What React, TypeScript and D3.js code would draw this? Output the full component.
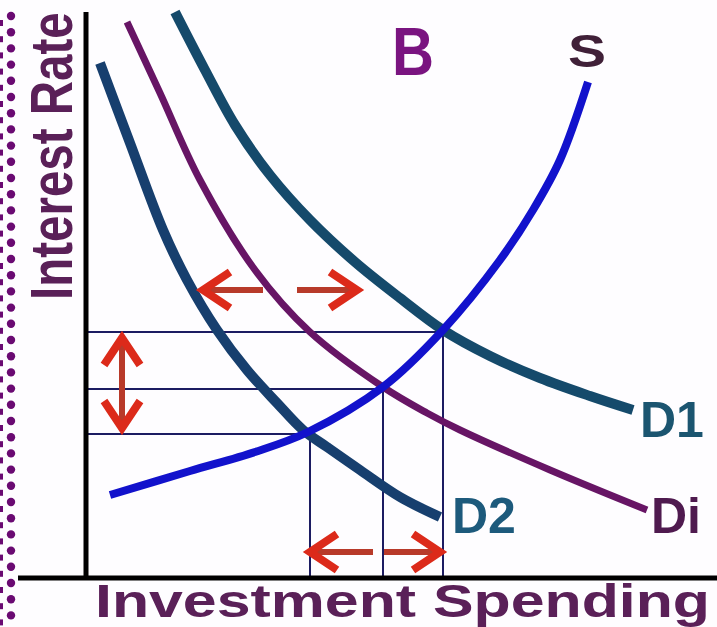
import React from "react";
import * as d3 from "d3";

const W = 717;
const H = 627;

// Chart units: investment spending (x) vs interest rate (y)
const d1Curve: [number, number][] = [
  [8.9, 56.6], [11.9, 50.8], [14.9, 45.3], [18.4, 40.3], [22.4, 35.8],
  [26.9, 31.6], [31.4, 28.0], [35.7, 24.8], [40.4, 22.2], [45.4, 20.0],
  [50.4, 18.2], [54.7, 16.8],
];
const diCurve: [number, number][] = [
  [4.1, 55.6], [7.4, 48.5], [11.4, 39.8], [16.9, 30.8], [22.4, 24.6],
  [29.7, 19.1], [34.1, 16.5], [37.4, 14.8], [46.4, 10.8], [56.1, 6.8],
];
const d2Curve: [number, number][] = [
  [1.4, 51.5], [4.4, 43.5], [7.7, 34.8], [10.1, 29.8], [13.1, 24.8],
  [16.1, 20.8], [19.1, 17.5], [21.7, 14.8], [24.1, 13.1], [27.4, 10.8],
  [31.4, 8.1], [35.4, 6.1],
];
const sCurve: [number, number][] = [
  [2.4, 8.3], [10.4, 10.7], [16.9, 12.6], [22.2, 14.6],
  [29.7, 19.1], [35.7, 24.8], [41.4, 31.8], [44.7, 36.8], [47.4, 41.8],
  [50.2, 49.6],
];

// Equilibria (spending, rate) for D2, Di, D1
const eqSpending = [22.4, 29.7, 35.7];
const eqRate = [14.4, 18.9, 24.6];

// Arrows: [fromX, fromY, toX, toY]
const shiftArrows: [number, number, number, number][] = [
  [17.7, 28.8, 11.7, 28.8],
  [21.1, 28.8, 27.1, 28.8],
  [3.6, 18.9, 3.6, 24.0],
  [3.6, 18.9, 3.6, 15.0],
  [28.7, 2.6, 22.4, 2.6],
  [29.8, 2.6, 35.4, 2.6],
];

const curveLabels = ["D1", "Di", "D2", "S"];
const xTitle = "Investment Spending";
const yTitle = "Interest Rate";
const panelLabel = "B";

const x = d3.scaleLinear().domain([0, 63]).range([86, 716]);
const y = d3.scaleLinear().domain([0, 57]).range([578, 8]);

const line = d3
  .line<[number, number]>()
  .x((d) => x(d[0]))
  .y((d) => y(d[1]))
  .curve(d3.curveCatmullRom.alpha(0.5));

function arrowPath(a: [number, number, number, number]) {
  const x0 = x(a[0]), y0 = y(a[1]), x1 = x(a[2]), y1 = y(a[3]);
  const dx = x1 - x0, dy = y1 - y0;
  const len = Math.hypot(dx, dy);
  const ux = dx / len, uy = dy / len;
  const hl = 27, hw = 18;
  const bx = x1 - ux * hl, by = y1 - uy * hl;
  const px = -uy, py = ux;
  return {
    shaft: `M${x0},${y0}L${x1 - ux * 6},${y1 - uy * 6}`,
    head: `M${bx + px * hw},${by + py * hw}L${x1},${y1}L${bx - px * hw},${by - py * hw}`,
  };
}

export default function App() {
  const font = "'Liberation Sans', Arial, sans-serif";
  const dots = d3.range(0, 39);
  const last = (c: [number, number][]) => c[c.length - 1];
  return (
    <svg
      width={W}
      height={H}
      style={{ position: "absolute", left: 0, top: 0, display: "block", background: "#fff" }}
    >
      <rect width={W} height={H} fill="#fefdff" />
      {/* dotted border */}
      {dots.map((i) => (
        <g key={i}>
          <rect x={-2} y={12 + i * 16.2 + 8} width={5} height={6} fill="#6a0a72" />
          <circle cx={11} cy={16 + i * 16.2} r={4.2} fill="#6a0a72" />
        </g>
      ))}

      {/* guide lines */}
      {eqSpending.map((q, i) => (
        <g key={i} stroke="#1c1c62" strokeWidth={2}>
          <line x1={x(0)} x2={x(q)} y1={y(eqRate[i])} y2={y(eqRate[i])} />
          <line x1={x(q)} x2={x(q)} y1={y(eqRate[i])} y2={y(0)} />
        </g>
      ))}

      {/* axes */}
      <line x1={x(0)} x2={x(0)} y1={12} y2={y(0) + 2} stroke="#000" strokeWidth={5} />
      <line x1={18} x2={W} y1={y(0)} y2={y(0)} stroke="#000" strokeWidth={5} />

      {/* curves */}
      <path d={line(d2Curve) || ""} fill="none" stroke="#173f6e" strokeWidth={10} />
      <path d={line(diCurve) || ""} fill="none" stroke="#671565" strokeWidth={7} />
      <path d={line(d1Curve) || ""} fill="none" stroke="#154a6b" strokeWidth={10} />
      <path d={line(sCurve) || ""} fill="none" stroke="#1212cc" strokeWidth={8} />

      {/* arrows */}
      {shiftArrows.map((a, i) => {
        const p = arrowPath(a);
        return (
          <g key={i} fill="none">
            <path d={p.shaft} stroke="#b83a2a" strokeWidth={6} />
            <path d={p.head} stroke="#dc2a1a" strokeWidth={8} strokeLinejoin="miter" />
          </g>
        );
      })}

      {/* labels */}
      <text x={x(last(d1Curve)[0]) + 7} y={437} fontFamily={font} fontWeight="bold" fontSize={50} fill="#1b5570">
        {curveLabels[0]}
      </text>
      <text x={x(last(diCurve)[0]) + 4} y={533} fontFamily={font} fontWeight="bold" fontSize={50} fill="#4f1a4f">
        {curveLabels[1]}
      </text>
      <text x={x(last(d2Curve)[0]) + 12} y={533} fontFamily={font} fontWeight="bold" fontSize={50} fill="#1d5a7c">
        {curveLabels[2]}
      </text>
      <text x={568} y={67} fontFamily={font} fontWeight="bold" fontSize={46} fill="#402038" textLength={38} lengthAdjust="spacingAndGlyphs">
        {curveLabels[3]}
      </text>
      <text x={392} y={75} fontFamily={font} fontWeight="bold" fontSize={69} fill="#7a1480" textLength={42} lengthAdjust="spacingAndGlyphs">
        {panelLabel}
      </text>
      <text x={95} y={617} fontFamily={font} fontWeight="bold" fontSize={47} fill="#5a2058" textLength={615} lengthAdjust="spacingAndGlyphs">
        {xTitle}
      </text>
      <text
        transform="translate(72,300) rotate(-90) scale(1,1.26)"
        fontFamily={font}
        fontWeight="bold"
        fontSize={47.5}
        fill="#5a2058"
      >
        {yTitle}
      </text>
    </svg>
  );
}
